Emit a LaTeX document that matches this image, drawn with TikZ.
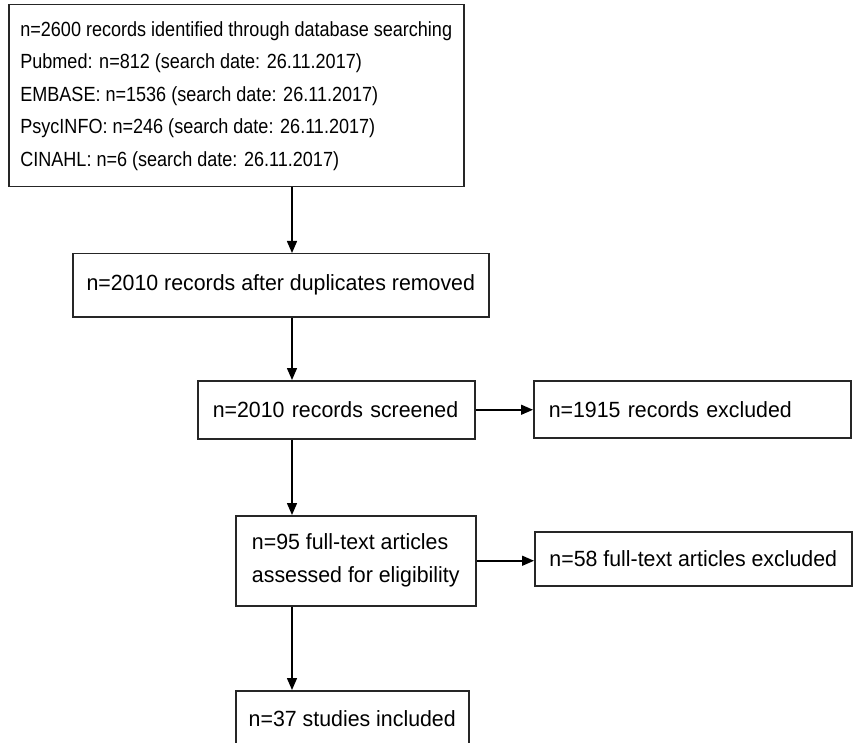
\documentclass[tikz,border=0pt]{standalone}
\usepackage{fontspec}
\setmainfont{Liberation Sans}
\newfontfamily\flowfont[FakeStretch=0.97]{Liberation Sans}
\newfontfamily\searchfont[FakeStretch=0.88]{Liberation Sans}
\usetikzlibrary{arrows.meta}
\tikzset{
    flow box/.style={
        draw=black!85, line width=1.5pt, rectangle, anchor=north west,
        align=left, inner xsep=4pt, inner ysep=0pt,
        font=\flowfont\fontsize{22}{33}\selectfont
    },
    flow arrow/.style={
        draw=black, line width=1.5pt, -{Triangle[length=12pt,width=10pt]}
    }
}

\begin{document}
\begin{tikzpicture}[x=1pt, y=-1pt]

\useasboundingbox (0,0) rectangle (856,743);

% Eje comun de las flechas verticales
\coordinate (trunk) at (292,0);

% Cajas del diagrama
\node[flow box, font=\searchfont\fontsize{20.5}{32.5}\selectfont,
      minimum width=455pt, minimum height=182pt]
    (search) at (8,4)
    {n=2600 records identified through database searching\\
     Pubmed: n=812 (search date: 26.11.2017)\\
     EMBASE: n=1536 (search date: 26.11.2017)\\
     PsycINFO: n=246 (search date: 26.11.2017)\\
     CINAHL: n=6 (search date: 26.11.2017)};
\node[flow box, minimum width=416pt, minimum height=63pt]
    (dedup) at (72,253) {n=2010 records after duplicates removed};
\node[flow box, inner xsep=15pt, text width=247pt, minimum height=58pt]
    (screened) at (197,380) {n=2010 records screened};
\node[flow box, inner xsep=15pt, text width=287pt, minimum height=57pt]
    (excluded) at (533,380) {n=1915 records excluded};
\node[flow box, minimum width=240pt, minimum height=90pt]
    (eligible) at (235,515) {n=95 full-text articles\\ assessed for eligibility};
\node[flow box, minimum width=317pt, minimum height=54pt]
    (fulltext) at (534,531) {n=58 full-text articles excluded};
\node[flow box, minimum width=233pt, minimum height=56pt]
    (included) at (235,690) {n=37 studies included};

% Flechas verticales
\draw[flow arrow] (search.south -| trunk) -- (dedup.north -| trunk);
\draw[flow arrow] (dedup.south -| trunk) -- (screened.north -| trunk);
\draw[flow arrow] (screened.south -| trunk) -- (eligible.north -| trunk);
\draw[flow arrow] (eligible.south -| trunk) -- (included.north -| trunk);

% Flechas horizontales hacia las exclusiones
\draw[flow arrow] (screened.east) -- (screened.east -| excluded.west);
\draw[flow arrow] (eligible.east) -- (eligible.east -| fulltext.west);

\end{tikzpicture}
\end{document}
